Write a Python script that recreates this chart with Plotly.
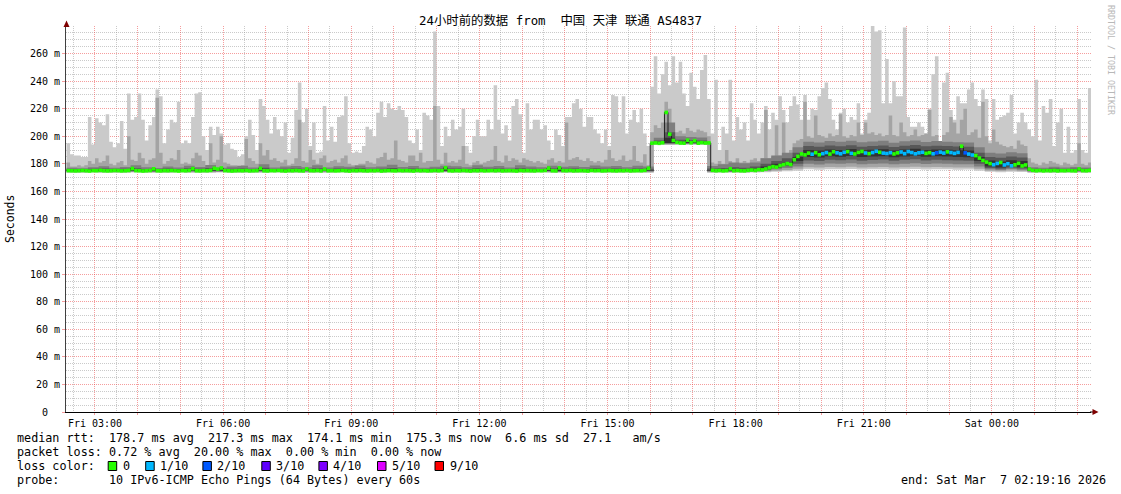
import pandas as pd
import plotly.graph_objects as go

# ---------------- data ----------------
START = pd.Timestamp("2026-03-06 02:20:00")
END = pd.Timestamp("2026-03-07 02:19:16")
STEP_FINE = pd.Timedelta(minutes=5)
STEP_COARSE = pd.Timedelta(minutes=15)

# highest of the 10 pings, per 5 minutes (ms)
max_rtt = [
    195,187,186,186,185,185,214,194,213,210,208,216,
    196,192,195,211,191,231,212,214,231,212,197,208,
    214,234,229,195,205,212,210,225,195,197,195,214,
    231,232,200,190,207,201,207,202,194,195,191,190,
    185,187,200,212,201,190,227,222,212,202,214,205,
    200,210,188,199,219,239,210,220,193,210,188,189,
    222,197,207,196,214,215,229,195,188,189,188,193,
    207,205,200,217,225,214,224,220,219,222,219,214,
    197,195,205,190,217,215,212,276,222,193,207,200,
    212,205,207,220,193,188,200,212,200,200,212,205,
    237,212,202,208,197,222,227,216,188,224,205,212,
    212,205,208,197,190,205,201,193,214,214,224,227,
    220,207,214,214,205,202,195,205,193,230,229,210,
    229,202,212,219,210,220,202,193,236,258,231,245,
    254,237,258,239,254,231,222,246,236,227,248,259,
    227,202,241,190,207,202,241,197,214,205,210,197,
    224,212,202,210,222,205,217,212,229,219,210,222,
    229,223,212,230,212,220,219,229,235,239,227,212,
    205,217,220,210,214,212,224,202,212,217,280,276,
    277,224,256,224,240,229,229,279,214,207,207,210,
    207,202,220,245,258,195,239,246,219,212,229,224,
    224,234,239,227,222,234,227,197,227,212,214,215,
    217,230,202,210,217,210,205,200,241,197,222,217,
    227,193,210,220,188,207,188,190,227,190,188,235,
]

# second highest ping, per 5 minutes (ms)
ping9 = [
    181,178,178,179,178,179,182,180,184,181,182,186,
    180,179,181,182,179,200,183,182,188,184,180,183,
    184,228,188,180,182,184,183,190,180,181,180,184,
    188,186,182,179,195,181,183,200,181,180,179,179,
    178,179,198,184,182,180,195,186,190,183,184,182,
    181,183,179,180,184,212,182,181,190,183,180,184,
    186,181,182,183,181,184,186,180,179,179,180,180,
    182,181,180,184,185,188,183,184,197,183,182,181,
    186,186,182,188,181,182,182,222,183,180,188,181,
    182,181,183,193,180,179,181,182,180,181,182,183,
    193,182,181,186,182,184,183,181,184,183,182,181,
    182,181,180,183,184,181,182,181,210,183,184,185,
    183,182,184,182,181,182,181,183,190,184,182,183,
    186,182,183,193,182,181,187,179,203,208,206,210,
    225,220,205,203,204,202,206,204,203,205,204,203,
    200,181,180,182,180,190,182,180,184,181,182,181,
    183,184,182,184,219,184,185,208,186,210,187,190,
    195,197,198,225,200,199,215,201,200,199,202,200,
    201,216,200,199,201,200,210,201,210,202,203,201,
    202,200,201,215,201,200,210,203,200,201,205,200,
    201,202,219,200,201,193,201,203,214,210,202,212,
    220,201,203,205,199,225,200,195,205,196,194,193,
    192,193,191,197,194,193,184,181,180,179,181,180,
    182,181,180,179,181,180,179,180,195,180,179,181,
]

# median rtt, per 5 minutes (ms)
median_rtt = [
    175.1,175.0,174.9,175.0,175.2,175.0,174.8,175.1,175.0,175.3,175.0,174.9,
    175.0,175.2,175.1,174.9,175.0,175.2,176.6,175.1,175.0,174.8,175.0,175.2,
    176.4,175.0,174.9,175.1,175.0,175.2,175.0,174.8,175.1,175.0,175.2,176.5,
    175.0,174.9,175.1,175.0,175.3,176.8,176.2,177.0,175.1,175.0,174.8,175.0,
    175.1,175.0,175.2,174.9,175.0,175.1,176.7,175.0,174.9,175.1,175.0,175.2,
    175.0,174.8,175.1,175.0,175.2,175.0,174.9,176.3,175.1,175.0,175.2,174.9,
    176.2,175.0,175.1,174.9,175.0,175.2,175.0,174.8,175.1,175.0,175.2,175.0,
    174.9,175.1,175.0,175.2,174.8,175.0,175.1,175.0,174.9,175.2,175.0,175.1,
    175.0,174.8,175.2,175.0,175.1,174.9,175.0,175.2,175.0,175.1,177.2,175.0,
    174.9,175.1,175.0,175.2,175.0,174.8,175.1,175.0,175.2,174.9,175.0,175.1,
    175.0,175.2,174.9,175.0,175.1,175.0,174.8,175.2,175.0,175.1,175.0,174.9,
    175.1,175.0,175.2,176.9,175.0,174.9,177.1,175.1,175.0,175.2,174.9,175.0,
    175.1,175.0,174.8,175.2,175.0,175.1,174.9,175.0,175.2,175.0,174.9,175.1,
    175.0,175.2,174.9,175.0,175.1,175.0,175.3,176.8,195.0,195.2,194.9,195.3,
    217.3,201.5,197.0,195.6,195.1,195.0,197.2,195.3,196.8,195.0,195.4,195.1,
    195.2,175.3,175.0,175.2,174.9,175.1,176.4,175.0,175.2,175.0,174.9,175.3,
    175.5,175.2,175.8,175.6,176.3,177.2,178.0,177.6,178.8,179.5,180.2,179.6,
    183.0,185.4,187.2,186.5,187.8,187.0,188.1,186.6,187.4,188.2,187.1,188.8,
    188.0,187.3,188.4,188.9,187.6,187.2,188.3,189.0,187.9,187.4,188.2,189.1,
    188.4,187.8,187.5,188.1,187.2,188.0,188.6,187.4,188.9,188.2,187.3,188.0,
    188.4,187.6,188.1,187.3,188.0,188.5,187.8,188.7,188.2,187.6,188.3,192.8,
    188.0,187.1,186.4,186.0,184.2,182.5,181.3,180.2,179.4,180.3,181.0,179.2,
    180.1,178.6,179.3,180.4,178.5,179.2,176.2,175.3,175.0,175.2,174.9,175.1,
    175.0,175.2,174.9,175.1,175.0,175.2,175.0,174.9,176.3,175.1,175.0,175.3,
]

# lost pings out of 10, per 5 minutes
loss_tenths = [
    0,0,0,0,0,0,0,0,0,0,0,0,  0,0,0,0,0,0,0,0,0,0,0,0,
    0,0,0,0,0,0,0,0,0,0,0,0,  0,0,0,0,0,0,0,0,0,0,0,0,
    0,0,0,0,0,0,0,0,0,0,0,0,  0,0,0,0,0,0,0,0,0,0,0,0,
    0,0,0,0,0,0,0,0,0,0,0,0,  0,0,0,0,0,0,0,0,0,0,0,0,
    0,0,0,0,0,0,0,0,0,0,0,0,  0,0,0,0,0,0,0,0,0,0,0,0,
    0,0,0,0,0,0,0,0,0,0,0,0,  0,0,0,0,0,0,0,0,0,0,0,0,
    0,0,0,0,0,0,0,0,0,0,0,0,  0,0,0,0,0,0,0,0,0,0,0,0,
    0,0,0,0,0,0,0,0,0,0,0,0,  0,0,0,0,0,0,0,0,0,0,0,0,
    0,0,0,0,0,0,0,0,0,0,0,0,  0,0,0,0,0,1,0,0,1,1,0,0,
    1,1,1,0,1,0,0,0,1,0,1,1,  0,1,1,1,0,0,1,1,1,1,1,1,
    1,0,0,1,2,1,1,0,1,1,1,0,  2,1,1,0,0,0,0,0,1,1,0,1,
    1,1,0,0,0,0,0,0,0,0,0,0,  0,0,0,0,0,0,0,0,0,0,0,0,
]

# inner pings, per 15 minutes (ms): lowest, 2nd..5th lowest, 6th..8th
min_rtt = [
    173.6,173.5,173.7,173.6,173.5,173.6,173.7,173.6,173.5,173.6,173.7,173.6,
    173.5,173.6,173.7,173.6,173.5,173.6,173.6,173.7,173.5,173.6,173.6,173.5,
    173.6,173.7,173.6,173.5,173.6,173.6,173.7,173.5,173.6,173.6,173.5,173.7,
    173.6,173.5,173.6,173.7,173.6,173.6,173.5,173.6,173.7,173.6,173.5,173.6,
    173.6,173.7,173.5,173.6,173.6,173.5,173.6,193.8,193.7,193.8,193.9,193.8,
    173.6,173.5,173.7,173.6,173.8,174.0,174.3,174.6,175.0,176.0,175.8,176.1,
    176.0,176.2,175.9,176.0,176.1,175.8,176.0,176.2,175.9,176.1,176.0,175.8,
    175.9,175.0,174.2,174.0,174.3,174.1,173.6,173.5,173.6,173.7,173.6,173.5,
]
ping2 = [
    174.0,173.9,174.1,174.0,173.9,174.0,174.1,174.0,173.9,174.0,174.1,174.0,
    173.9,174.0,174.1,174.0,173.9,174.0,174.0,174.1,173.9,174.0,174.0,173.9,
    174.0,174.1,174.0,173.9,174.0,174.0,174.1,173.9,174.0,174.0,173.9,174.1,
    174.0,173.9,174.0,174.1,174.0,174.0,173.9,174.0,174.1,174.0,173.9,174.0,
    174.0,174.1,173.9,174.0,174.0,174.1,174.0,194.2,194.1,194.3,194.2,194.2,
    174.0,174.1,173.9,174.0,174.3,174.6,175.0,175.6,176.5,177.6,177.4,177.8,
    177.5,177.9,177.4,177.6,177.8,177.3,177.6,177.9,177.5,177.7,177.6,177.4,
    177.4,176.5,175.0,174.8,175.1,174.9,174.0,174.1,173.9,174.0,174.1,174.0,
]
ping3 = [
    174.4,174.3,174.5,174.4,174.3,174.4,174.5,174.4,174.3,174.4,174.5,174.4,
    174.3,174.4,174.5,174.4,174.3,174.4,174.4,174.5,174.3,174.4,174.4,174.3,
    174.4,174.5,174.4,174.3,174.4,174.4,174.5,174.3,174.4,174.4,174.3,174.5,
    174.4,174.3,174.4,174.5,174.4,174.4,174.3,174.4,174.5,174.4,174.3,174.4,
    174.4,174.5,174.3,174.4,174.4,174.5,174.4,194.6,194.5,194.7,194.6,194.6,
    174.4,174.5,174.3,174.4,174.8,175.2,176.0,177.0,178.0,180.0,179.6,180.3,
    180.0,180.4,179.8,180.1,180.3,179.7,180.1,180.5,179.9,180.2,180.0,179.8,
    179.7,178.0,176.0,175.6,176.2,175.8,174.4,174.5,174.3,174.4,174.5,174.4,
]
ping4 = [
    174.8,174.7,174.9,174.8,174.7,174.8,174.9,174.8,174.7,174.8,174.9,174.8,
    174.7,174.8,174.9,174.8,174.7,174.8,174.8,174.9,174.7,174.8,174.8,174.7,
    174.8,174.9,174.8,174.7,174.8,174.8,174.9,174.7,174.8,174.8,174.7,174.9,
    174.8,174.7,174.8,174.9,174.8,174.8,174.7,174.8,174.9,174.8,174.7,174.8,
    174.8,174.9,174.7,174.8,174.8,174.9,174.8,195.0,194.9,195.1,195.0,195.0,
    174.8,174.9,174.7,174.8,175.2,175.8,177.0,178.3,180.0,182.5,182.0,183.0,
    182.6,183.2,182.3,182.8,183.1,182.2,182.9,183.4,182.5,183.0,182.7,182.4,
    182.2,180.0,177.0,176.4,177.2,176.6,174.8,174.9,174.7,174.8,174.9,174.8,
]
ping5 = [
    175.1,175.0,175.2,175.1,175.0,175.1,175.2,175.1,175.0,175.1,175.2,175.1,
    175.0,175.1,175.2,175.1,175.0,175.1,175.1,175.2,175.0,175.1,175.1,175.0,
    175.1,175.2,175.1,175.0,175.1,175.1,175.2,175.0,175.1,175.1,175.0,175.2,
    175.1,175.0,175.1,175.2,175.1,175.1,175.0,175.1,175.2,175.1,175.0,175.1,
    175.1,175.2,175.0,175.1,175.1,175.2,175.1,195.3,195.2,195.4,195.3,195.3,
    175.1,175.2,175.0,175.1,175.6,176.5,178.0,179.3,182.0,185.0,184.6,185.5,
    185.2,185.7,184.9,185.4,185.6,184.8,185.4,185.9,185.1,185.5,185.3,185.0,
    184.8,182.0,178.0,177.3,178.2,177.6,175.1,175.2,175.0,175.1,175.2,175.1,
]
ping6 = [
    175.6,175.5,175.8,175.6,175.5,175.7,175.9,175.6,175.5,175.7,175.8,175.6,
    175.5,175.7,175.9,175.6,175.5,175.6,175.8,175.7,175.5,175.6,175.7,175.5,
    175.6,175.8,175.6,175.5,175.7,175.6,175.9,175.5,175.6,175.7,175.5,175.8,
    175.6,175.5,175.7,175.8,175.6,175.6,175.5,175.7,175.8,175.6,175.5,175.6,
    175.6,175.7,175.5,175.6,175.6,175.7,175.6,195.8,199.0,196.0,195.9,195.8,
    175.6,175.7,175.5,175.6,176.5,178.0,180.0,181.0,185.0,190.0,189.6,190.5,
    190.1,190.7,189.8,190.3,190.6,189.7,190.4,190.9,190.0,190.5,190.2,189.9,
    189.7,185.0,182.5,181.8,182.6,182.0,175.6,175.7,175.5,175.6,175.7,175.6,
]
ping7 = [
    176.2,176.0,176.4,176.7,176.1,176.5,176.9,176.3,176.0,176.6,176.2,176.8,
    176.4,177.0,176.0,176.5,176.7,176.2,177.2,176.1,176.5,176.6,176.3,176.9,
    176.1,176.6,176.4,176.8,176.2,176.5,177.0,176.3,176.7,176.0,176.5,176.7,
    176.6,176.2,176.9,176.4,176.6,176.1,176.8,176.5,176.2,176.7,176.4,176.6,
    176.3,176.8,176.5,176.6,176.2,176.7,176.5,197.0,203.0,197.5,197.2,197.0,
    176.6,177.0,177.5,177.2,178.0,180.0,182.0,184.0,188.0,193.0,192.4,193.3,
    192.8,193.5,192.5,193.0,193.4,192.3,193.1,193.7,192.7,193.2,192.9,192.6,
    192.4,188.0,185.0,184.5,185.3,184.7,176.4,176.2,176.6,176.3,176.5,176.4,
]
ping8 = [
    177.2,176.9,177.6,178.3,177.1,177.8,179.0,177.5,177.0,178.1,177.4,178.6,
    177.8,179.2,177.1,178.0,178.6,177.4,179.8,177.3,178.0,178.4,177.6,178.9,
    177.4,178.2,177.9,178.8,177.5,178.0,179.3,177.7,178.5,177.2,177.9,178.6,
    178.2,177.5,179.0,177.9,178.5,177.3,178.9,178.0,177.6,178.7,177.9,178.3,
    177.7,178.8,178.0,178.4,177.6,178.6,178.1,199.0,210.0,200.0,199.5,199.2,
    178.4,179.8,181.0,180.4,181.0,184.0,186.0,188.0,192.0,196.0,195.5,196.5,
    196.0,196.8,195.6,196.3,196.7,195.4,196.4,197.0,195.9,196.5,196.1,195.7,
    195.5,192.0,188.0,187.5,188.4,187.7,177.6,177.2,177.9,177.4,177.7,177.3,
]

loss_levels = [0, 1, 2, 3, 4, 5, 9]
loss_labels = ["0", "1/10", "2/10", "3/10", "4/10", "5/10", "9/10"]
loss_colors = ["#26ff00", "#00b8ff", "#0059ff", "#5e00ff", "#7e00ff", "#dd00ff", "#ff0000"]
smoke_colors = ["#cacaca", "#a4a4a4", "#7e7e7e", "#585858", "#323232"]

title_text = "24小时前的数据 from  中国 天津 联通 AS4837"
stats_lines = [
    "median rtt:  178.7 ms avg  217.3 ms max  174.1 ms min  175.3 ms now  6.6 ms sd  27.1   am/s",
    "packet loss: 0.72 % avg  20.00 % max  0.00 % min  0.00 % now",
]
probe_line = "probe:       10 IPv6-ICMP Echo Pings (64 Bytes) every 60s"
end_line = "end: Sat Mar  7 02:19:16 2026"
y_ticks = [0, 20, 40, 60, 80, 100, 120, 140, 160, 180, 200, 220, 240, 260]

# ---------------- layout geometry (pixels) ----------------
W, H = 1121, 494
ML, MR, MT, MB = 66, 30, 26, 82
PW, PH = W - ML - MR, H - MT - MB
MONO = "DejaVu Sans Mono"


def xp(px):
    return (px - ML) / PW


def yp(py):
    return (MT + PH - py) / PH


def nb(s):
    return s.replace(" ", "\u00a0")


t_fine = [START + i * STEP_FINE for i in range(len(max_rtt) + 1)]
t_coarse = [START + j * STEP_COARSE for j in range(len(ping8) + 1)]


def ext(v):
    return list(v) + [v[-1]]


fig = go.Figure()


def band(lo_t, lo, hi_t, hi, color):
    fig.add_trace(go.Scatter(x=lo_t, y=ext(lo), mode="lines",
                             line=dict(width=0, shape="hv"),
                             hoverinfo="skip", showlegend=False))
    fig.add_trace(go.Scatter(x=hi_t, y=ext(hi), mode="lines",
                             line=dict(width=0, shape="hv"),
                             fill="tonexty", fillcolor=color,
                             hoverinfo="skip", showlegend=False))


band(t_coarse, min_rtt, t_fine, max_rtt, smoke_colors[0])
band(t_coarse, ping2, t_fine, ping9, smoke_colors[1])
band(t_coarse, ping3, t_coarse, ping8, smoke_colors[2])
band(t_coarse, ping4, t_coarse, ping7, smoke_colors[3])
band(t_coarse, ping5, t_coarse, ping6, smoke_colors[4])

# thin dark median line (shows at the jumps)
fig.add_trace(go.Scatter(x=t_fine, y=ext(median_rtt), mode="lines",
                         line=dict(width=1, color="#202020", shape="hv"),
                         hoverinfo="skip", showlegend=False))

# median segments coloured by loss level
for level, col in zip(loss_levels, loss_colors):
    xs, ys = [], []
    for i, (m, l) in enumerate(zip(median_rtt, loss_tenths)):
        if l == level:
            xs += [t_fine[i], t_fine[i + 1], None]
            ys += [m, m, None]
    if xs:
        fig.add_trace(go.Scatter(x=xs, y=ys, mode="lines",
                                 line=dict(width=3.6, color=col),
                                 connectgaps=False, hoverinfo="skip", showlegend=False))

# ---------------- axes ----------------
hours = pd.date_range("2026-03-06 03:00", "2026-03-07 02:00", freq="1h")
half_hours = pd.date_range("2026-03-06 02:30", "2026-03-07 01:30", freq="1h")
hour_text = [h.strftime("%a %H:%M") if h.hour % 3 == 0 else "" for h in hours]

RED_GRID = "rgba(235,60,60,0.5)"
GRAY_GRID = "rgba(150,150,150,0.5)"

fig.update_xaxes(
    type="date", range=[END - pd.Timedelta(hours=24), END],
    tickmode="array", tickvals=list(hours), ticktext=hour_text,
    showgrid=True, gridcolor=RED_GRID, griddash="1px,1px", gridwidth=1,
    minor=dict(tickmode="array", tickvals=list(half_hours), showgrid=True,
               gridcolor=GRAY_GRID, griddash="1px,1px", ticks=""),
    ticks="outside", ticklen=2, tickcolor=RED_GRID,
    showline=True, linecolor="#000000", linewidth=1, zeroline=False,
    tickfont=dict(family=MONO, size=10, color="#000"),
    fixedrange=True,
)
fig.update_yaxes(
    range=[0, 280],
    tickmode="array", tickvals=y_ticks,
    ticktext=["0\u00a0\u00a0"] + [f"{v}\u00a0m" for v in y_ticks[1:]],
    showgrid=True, gridcolor=RED_GRID, griddash="1px,1px", gridwidth=1,
    minor=dict(tickmode="array", tickvals=[v for v in range(5, 280, 5) if v % 20],
               showgrid=True, gridcolor=GRAY_GRID, griddash="1px,1px", ticks=""),
    ticks="outside", ticklen=3, tickcolor=RED_GRID,
    showline=True, linecolor="#404040", linewidth=1, zeroline=False,
    tickfont=dict(family=MONO, size=10, color="#000"),
    fixedrange=True,
)

# ---------------- decorations ----------------
ARROW = "#7f0000"
AX_Y = MT + PH
shapes = [
    dict(type="path", xref="paper", yref="paper",
         path=f"M {xp(63.5)},{yp(27)} L {xp(69.5)},{yp(27)} L {xp(66.5)},{yp(20.5)} Z",
         fillcolor=ARROW, line=dict(width=0)),
    dict(type="line", xref="paper", yref="paper",
         x0=xp(1090), x1=xp(1093), y0=yp(AX_Y), y1=yp(AX_Y),
         line=dict(color="#000", width=1)),
    dict(type="path", xref="paper", yref="paper",
         path=f"M {xp(1092.5)},{yp(AX_Y - 3)} L {xp(1092.5)},{yp(AX_Y + 3)} L {xp(1098.5)},{yp(AX_Y)} Z",
         fillcolor=ARROW, line=dict(width=0)),
]

annotations = [
    dict(text=title_text, x=xp(560.5), y=yp(21), xanchor="center", yanchor="middle",
         font=dict(family=MONO + ", Noto Sans CJK SC", size=12.4, color="#000")),
    dict(text="Seconds", x=xp(10), y=yp(219), xanchor="center", yanchor="middle",
         textangle=-90, font=dict(family=MONO, size=11.5, color="#000")),
    dict(text=nb("RRDTOOL / TOBI OETIKER"), x=xp(1111), y=yp(60), xanchor="center",
         yanchor="middle", textangle=90, font=dict(family=MONO, size=8.3, color="#b8b8b8")),
]
row_y = [438.0, 452.0, 466.0, 480.0]
for i, line in enumerate(stats_lines):
    annotations.append(dict(text=nb(line), x=xp(16), y=yp(row_y[i]), xanchor="left",
                            yanchor="middle", font=dict(family=MONO, size=11.75, color="#000")))
annotations.append(dict(text=nb("loss color:"), x=xp(16), y=yp(row_y[2]), xanchor="left",
                        yanchor="middle", font=dict(family=MONO, size=11.75, color="#000")))
box_x = [108.2, 145.7, 202.9, 261.8, 318.9, 377.5, 435.0]
for bx, lab, col in zip(box_x, loss_labels, loss_colors):
    shapes.append(dict(type="rect", xref="paper", yref="paper",
                       x0=xp(bx), x1=xp(bx + 8.5), y0=yp(row_y[2] + 4.5), y1=yp(row_y[2] - 4.5),
                       fillcolor=col, line=dict(color="#000", width=1)))
    annotations.append(dict(text=lab, x=xp(bx + 13.5), y=yp(row_y[2]), xanchor="left",
                            yanchor="middle", font=dict(family=MONO, size=11.75, color="#000")))
annotations.append(dict(text=nb(probe_line), x=xp(16), y=yp(row_y[3]), xanchor="left",
                        yanchor="middle", font=dict(family=MONO, size=11.75, color="#000")))
annotations.append(dict(text=nb(end_line), x=xp(1107), y=yp(row_y[3]), xanchor="right",
                        yanchor="middle", font=dict(family=MONO, size=11.75, color="#000")))
for a in annotations:
    a.update(xref="paper", yref="paper", showarrow=False, borderpad=0)

fig.update_layout(
    width=W, height=H,
    margin=dict(l=ML, r=MR, t=MT, b=MB, pad=0),
    paper_bgcolor="#ffffff", plot_bgcolor="#ffffff",
    showlegend=False,
    shapes=shapes, annotations=annotations,
)

fig.write_html("out.html", config={"displayModeBar": False},
               post_script="document.body.style.margin='0';document.body.style.overflow='hidden';")
